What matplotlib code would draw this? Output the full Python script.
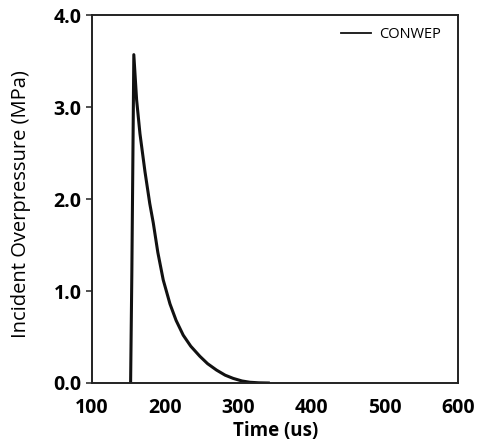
import matplotlib
matplotlib.use("Agg")
import matplotlib.pyplot as plt

time_us = [152.8, 154.5, 157.2, 161, 165.6, 172.4, 179, 183.8, 190, 197.4, 206.6,
           215, 224.7, 235, 247.5, 258, 270.3, 282, 293, 305, 315.8, 328, 341]
pressure_mpa = [0.0, 1.2, 3.57, 3.08, 2.71, 2.30, 1.95, 1.74, 1.42, 1.12, 0.86,
                0.68, 0.52, 0.40, 0.29, 0.21, 0.14, 0.085, 0.05, 0.022, 0.008, 0.002, 0.0]
series_label = "CONWEP"
xticks = [100, 200, 300, 400, 500, 600]
yticks = [0.0, 1.0, 2.0, 3.0, 4.0]

plt.rcParams['font.family'] = ['Open Sans', 'DejaVu Sans']

fig = plt.figure(figsize=(4.84, 4.44), dpi=100)
ax = fig.add_axes([0.190, 0.1374, 0.756, 0.8286])
ax.plot(time_us, pressure_mpa, color='#111111', lw=2.2, label=series_label)
ax.set_xlim(100, 600)
ax.set_ylim(0, 4.0)
ax.set_xticks(xticks)
ax.set_xticklabels([str(v) for v in xticks], fontsize=14, fontweight='bold')
ax.set_yticks(yticks)
ax.set_yticklabels([f"{v:.1f}" for v in yticks], fontsize=14, fontweight='bold')
ax.tick_params(axis='x', length=0, pad=11)
ax.tick_params(axis='y', direction='out', length=4, width=1.1, pad=3.6, color='#222222')
for s in ax.spines.values():
    s.set_linewidth(1.4)
    s.set_color('#222222')
ax.set_xlabel("Time (us)", fontsize=13.5, fontweight='bold', va='center')
ax.xaxis.set_label_coords(0.503, -0.13)
ax.set_ylabel("Incident Overpressure (MPa)", fontsize=14.5, va='center')
ax.yaxis.set_label_coords(-0.194, 0.486)
leg = ax.legend(loc='upper right', bbox_to_anchor=(0.9705, 0.984), frameon=False,
                fontsize=10.5, handlelength=2.1, handletextpad=0.55, borderaxespad=0)
for l in leg.get_lines():
    l.set_linewidth(1.3)
fig.savefig("out.png", dpi=100)
